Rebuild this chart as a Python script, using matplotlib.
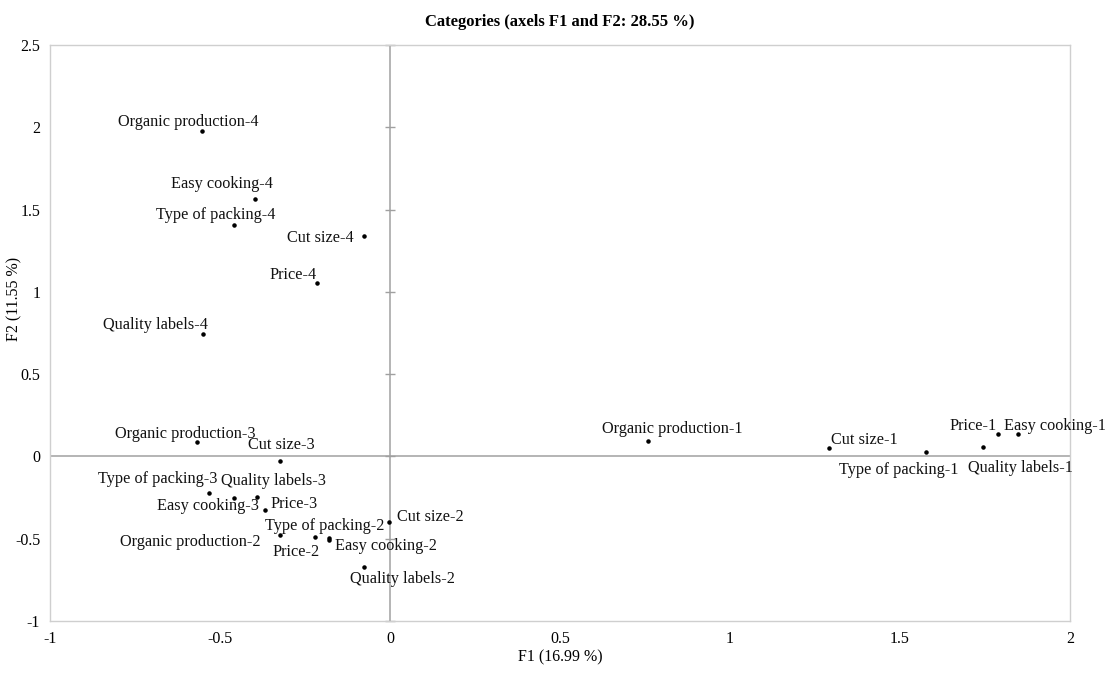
import matplotlib
matplotlib.use("Agg")
import matplotlib.pyplot as plt
import numpy as np

# category coordinates on the first two factors
labels = [
    "Organic production-4", "Easy cooking-4", "Type of packing-4", "Cut size-4",
    "Price-4", "Quality labels-4",
    "Organic production-3", "Cut size-3", "Type of packing-3", "Quality labels-3",
    "Easy cooking-3", "Price-3",
    "Type of packing-2", "Cut size-2", "Organic production-2", "Price-2",
    "Easy cooking-2", "Quality labels-2",
    "Organic production-1", "Cut size-1", "Type of packing-1", "Quality labels-1",
    "Price-1", "Easy cooking-1",
]
f1 = [-0.552, -0.397, -0.459, -0.076, -0.216, -0.549,
      -0.567, -0.322, -0.532, -0.390, -0.459, -0.367,
      -0.180, -0.002, -0.322, -0.221, -0.180, -0.076,
      0.760, 1.292, 1.577, 1.745, 1.789, 1.848]
f2 = [1.980, 1.567, 1.406, 1.339, 1.055, 0.742,
      0.089, -0.026, -0.220, -0.249, -0.255, -0.326,
      -0.494, -0.400, -0.480, -0.488, -0.508, -0.674,
      0.095, 0.053, 0.027, 0.055, 0.134, 0.134]

xticks = [-1, -0.5, 0, 0.5, 1, 1.5, 2]
yticks = [-1, -0.5, 0, 0.5, 1, 1.5, 2, 2.5]

# label placement (pixels from the point)
offsets = {
    "Organic production-4": (-14, 9), "Easy cooking-4": (-33, 15),
    "Type of packing-4": (-18, 10), "Cut size-4": (-44, -2),
    "Price-4": (-23, 8), "Quality labels-4": (-48, 9),
    "Organic production-3": (-12, 8), "Cut size-3": (1, 16),
    "Type of packing-3": (-51, 14), "Quality labels-3": (16, 16),
    "Easy cooking-3": (-26, -8), "Price-3": (29, 6),
    "Type of packing-2": (-4, 12), "Cut size-2": (41, 5),
    "Organic production-2": (-90, -7), "Price-2": (-19, -15),
    "Easy cooking-2": (57, -6), "Quality labels-2": (38, -12),
    "Organic production-1": (24, 12), "Cut size-1": (35, 8),
    "Type of packing-1": (-27, -18), "Quality labels-1": (37, -21),
    "Price-1": (-25, 8), "Easy cooking-1": (37, 8),
}

plt.rcParams['font.family'] = ['Liberation Serif', 'DejaVu Serif']

fig = plt.figure(figsize=(11.1, 6.75), dpi=100)
ax = fig.add_axes([0.045, 0.08, 0.919, 0.8533])

ax.axhline(0, color='#a0a0a0', lw=1.1, zorder=1)
ax.axvline(0, color='#a0a0a0', lw=1.1, zorder=1)
# small tick marks along the vertical zero line
ax.plot(np.zeros(len(yticks)), yticks, ls='none', marker='_', ms=7,
        mew=1.0, color='#a0a0a0', zorder=1, clip_on=False)

ax.scatter(f1, f2, s=5, color='black', zorder=3)
for lab, x, y in zip(labels, f1, f2):
    dx, dy = offsets[lab]
    ax.annotate(lab, (x, y), xytext=(dx, dy), textcoords='offset pixels',
                ha='center', va='center', fontsize=11.7, color='#111111')

ax.set_xlim(-1, 2)
ax.set_ylim(-1, 2.5)
ax.set_xticks(xticks)
ax.set_yticks(yticks)
ax.set_xticklabels(['-1', '-0.5', '0', '0.5', '1', '1.5', '2'])
ax.set_yticklabels(['-1', '-0.5', '0', '0.5', '1', '1.5', '2', '2.5'])
ax.tick_params(axis='x', length=0, labelsize=11.5, pad=7)
ax.tick_params(axis='y', length=0, labelsize=11.5, pad=7)
for sp in ax.spines.values():
    sp.set_color('#cfcfcf')
    sp.set_linewidth(1.0)

ax.set_xlabel('F1 (16.99 %)', fontsize=11.5, labelpad=2)
ax.set_ylabel('F2 (11.55 %)', fontsize=11.5)
ax.yaxis.set_label_coords(-0.027, 0.56)
ax.set_title('Categories (axels F1 and F2: 28.55 %)', fontsize=12,
             fontweight='bold', pad=14)

fig.savefig('out.png', dpi=100)
